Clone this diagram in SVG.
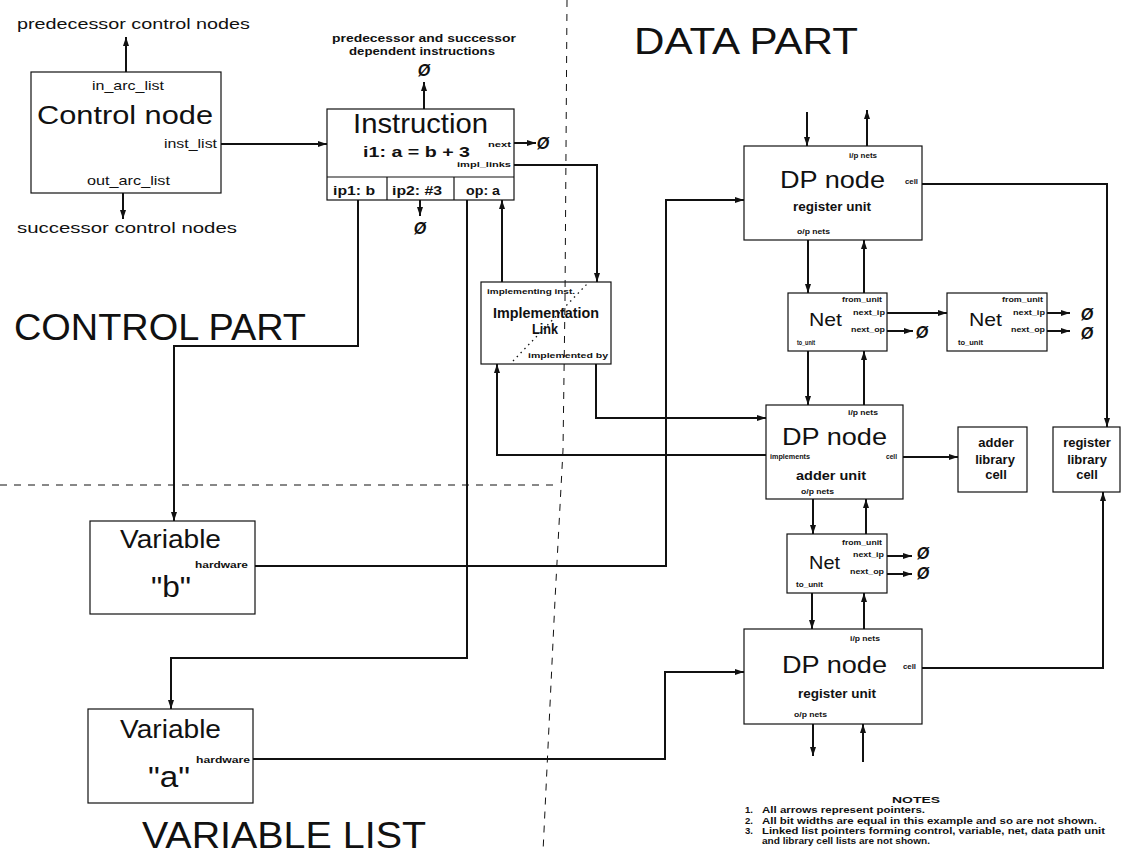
<svg xmlns="http://www.w3.org/2000/svg" width="1121" height="854" viewBox="0 0 1121 854">
<defs>
<marker id="ah" markerUnits="userSpaceOnUse" markerWidth="10" markerHeight="7" refX="9" refY="3.5" orient="auto">
<path d="M0,0.5 L9,3.5 L0,6.5 z" fill="#111"/>
</marker>
<style>
text{font-family:"Liberation Sans",Arial,sans-serif;fill:#111}
.box{fill:#fff;stroke:#111;stroke-width:1.2}
.c{fill:none;stroke:#111;stroke-width:2;marker-end:url(#ah)}
.dash{fill:none;stroke:#111;stroke-width:1;stroke-dasharray:7,7}
.t{font-weight:bold;font-size:8px}
.nul{font-size:16px;font-style:italic;font-weight:bold;text-anchor:middle}
.big{font-size:36px}
.note{font-weight:bold;font-size:9.5px}
</style>
</defs>
<rect width="1121" height="854" fill="#fff"/>

<g id="section-labels">
<text class="big" x="634" y="54" textLength="224" lengthAdjust="spacingAndGlyphs">DATA PART</text>
<text class="big" x="14" y="340" textLength="292" lengthAdjust="spacingAndGlyphs">CONTROL PART</text>
<text class="big" x="142" y="848" font-size="35" textLength="284" lengthAdjust="spacingAndGlyphs">VARIABLE LIST</text>
</g>

<g id="connectors">
<path class="c" d="M126,72 V37"/>
<path class="c" d="M123,193 V219"/>
<path class="c" d="M221,144 H327"/>
<path class="c" d="M424,109 V82"/>
<path class="c" d="M514,143 H536"/>
<path class="c" d="M420,200 V216"/>
<path class="c" d="M514,165 H597 V282"/>
<path class="c" d="M358,200 V346 H174 V521"/>
<path class="c" d="M467,200 V658 H171 V709"/>
<path class="c" d="M502,282 V200"/>
<path class="c" d="M596,364 V418 H766"/>
<path class="c" d="M766,455 H497 V364"/>
<path class="c" d="M255,566 H666 V200 H744"/>
<path class="c" d="M253,759 H665 V672 H744"/>
<path class="c" d="M807,112 V146"/>
<path class="c" d="M867,146 V110"/>
<path class="c" d="M808,240 V293"/>
<path class="c" d="M864,293 V240"/>
<path class="c" d="M887,313 H947"/>
<path class="c" d="M887,331 H913"/>
<path class="c" d="M1047,313 H1070"/>
<path class="c" d="M1047,331 H1070"/>
<path class="c" d="M922,184 H1107 V427"/>
<path class="c" d="M808,351 V405"/>
<path class="c" d="M864,405 V351"/>
<path class="c" d="M903,457 H958"/>
<path class="c" d="M813,499 V534"/>
<path class="c" d="M866,534 V499"/>
<path class="c" d="M887,556 H912"/>
<path class="c" d="M887,574 H912"/>
<path class="c" d="M812,593 V629"/>
<path class="c" d="M864,629 V593"/>
<path class="c" d="M922,668 H1103 V492"/>
<path class="c" d="M813,724 V756"/>
<path class="c" d="M863,762 V724"/>
</g>

<g id="null-pointers">
<text class="nul" x="424" y="76">Ø</text>
<text class="nul" x="543" y="149">Ø</text>
<text class="nul" x="420" y="234">Ø</text>
<text class="nul" x="922" y="338">Ø</text>
<text class="nul" x="1087" y="320">Ø</text>
<text class="nul" x="1087" y="339">Ø</text>
<text class="nul" x="923" y="559">Ø</text>
<text class="nul" x="923" y="579">Ø</text>
</g>

<g id="outer-labels">
<text x="17" y="29" font-size="15" textLength="233" lengthAdjust="spacingAndGlyphs">predecessor control nodes</text>
<text x="17" y="233" font-size="15" textLength="220" lengthAdjust="spacingAndGlyphs">successor control nodes</text>
<text x="332" y="42" font-size="11" font-weight="bold" textLength="184" lengthAdjust="spacingAndGlyphs">predecessor and successor</text>
<text x="349" y="55" font-size="11" font-weight="bold" textLength="146" lengthAdjust="spacingAndGlyphs">dependent instructions</text>
</g>

<g id="control-node">
<rect class="box" x="31" y="72" width="190" height="121"/>
<text x="92" y="90" font-size="13" textLength="72" lengthAdjust="spacingAndGlyphs">in_arc_list</text>
<text x="37" y="124" font-size="25" textLength="176" lengthAdjust="spacingAndGlyphs">Control node</text>
<text x="164" y="148" font-size="13" textLength="53" lengthAdjust="spacingAndGlyphs">inst_list</text>
<text x="87" y="185" font-size="13" textLength="83" lengthAdjust="spacingAndGlyphs">out_arc_list</text>
</g>

<g id="instruction">
<rect class="box" x="327" y="109" width="187" height="91"/>
<line x1="327" y1="177" x2="514" y2="177" stroke="#111" stroke-width="1.2"/>
<line x1="387" y1="177" x2="387" y2="200" stroke="#111" stroke-width="1.2"/>
<line x1="454" y1="177" x2="454" y2="200" stroke="#111" stroke-width="1.2"/>
<text x="353" y="133" font-size="28" textLength="135" lengthAdjust="spacingAndGlyphs">Instruction</text>
<text x="363" y="157" font-size="15" font-weight="bold" textLength="107" lengthAdjust="spacingAndGlyphs">i1:  a = b + 3</text>
<text class="t" x="488" y="147" textLength="23" lengthAdjust="spacingAndGlyphs">next</text>
<text class="t" x="457" y="167" textLength="54" lengthAdjust="spacingAndGlyphs">impl_links</text>
<text x="333" y="195" font-size="12" font-weight="bold" textLength="42" lengthAdjust="spacingAndGlyphs">ip1: b</text>
<text x="392" y="195" font-size="12" font-weight="bold" textLength="50" lengthAdjust="spacingAndGlyphs">ip2: #3</text>
<text x="466" y="195" font-size="12" font-weight="bold" textLength="34" lengthAdjust="spacingAndGlyphs">op: a</text>
</g>

<g id="implementation-link">
<rect class="box" x="481" y="282" width="130" height="82"/>
<line x1="513" y1="361" x2="588" y2="283" stroke="#111" stroke-width="1.3" stroke-dasharray="1.5,4"/>
<text class="t" x="487" y="294" textLength="88" lengthAdjust="spacingAndGlyphs">implementing inst.</text>
<text x="493" y="318" font-size="14" font-weight="bold" textLength="106" lengthAdjust="spacingAndGlyphs">Implementation</text>
<text x="532" y="334" font-size="14" font-weight="bold" textLength="26" lengthAdjust="spacingAndGlyphs">Link</text>
<text class="t" x="528" y="358" textLength="80" lengthAdjust="spacingAndGlyphs">implemented by</text>
</g>

<g id="dp-node-register-1">
<rect class="box" x="744" y="146" width="178" height="94"/>
<text class="t" x="849" y="158" textLength="28" lengthAdjust="spacingAndGlyphs">i/p nets</text>
<text x="780" y="188" font-size="24" textLength="105" lengthAdjust="spacingAndGlyphs">DP node</text>
<text class="t" x="905" y="184" textLength="13" lengthAdjust="spacingAndGlyphs">cell</text>
<text x="793" y="211" font-size="13" font-weight="bold" textLength="78" lengthAdjust="spacingAndGlyphs">register unit</text>
<text class="t" x="797" y="234" textLength="33" lengthAdjust="spacingAndGlyphs">o/p nets</text>
</g>

<g id="net-1">
<rect class="box" x="788" y="293" width="99" height="58"/>
<text x="809" y="326" font-size="19" textLength="33" lengthAdjust="spacingAndGlyphs">Net</text>
<text class="t" x="842" y="302" textLength="40" lengthAdjust="spacingAndGlyphs">from_unit</text>
<text class="t" x="853" y="315" textLength="32" lengthAdjust="spacingAndGlyphs">next_ip</text>
<text class="t" x="851" y="332" textLength="34" lengthAdjust="spacingAndGlyphs">next_op</text>
<text class="t" x="797" y="345" textLength="18" lengthAdjust="spacingAndGlyphs">to_unit</text>
</g>

<g id="net-2">
<rect class="box" x="947" y="293" width="100" height="58"/>
<text x="969" y="326" font-size="19" textLength="33" lengthAdjust="spacingAndGlyphs">Net</text>
<text class="t" x="1002" y="302" textLength="41" lengthAdjust="spacingAndGlyphs">from_unit</text>
<text class="t" x="1013" y="315" textLength="32" lengthAdjust="spacingAndGlyphs">next_ip</text>
<text class="t" x="1011" y="332" textLength="34" lengthAdjust="spacingAndGlyphs">next_op</text>
<text class="t" x="958" y="345" textLength="25" lengthAdjust="spacingAndGlyphs">to_unit</text>
</g>

<g id="dp-node-adder">
<rect class="box" x="766" y="405" width="137" height="94"/>
<text class="t" x="848" y="415" textLength="30" lengthAdjust="spacingAndGlyphs">i/p nets</text>
<text x="782" y="445" font-size="24" textLength="105" lengthAdjust="spacingAndGlyphs">DP node</text>
<text class="t" x="770" y="459" font-size="6" textLength="40" lengthAdjust="spacingAndGlyphs">implements</text>
<text class="t" x="886" y="459" textLength="11" lengthAdjust="spacingAndGlyphs">cell</text>
<text x="796" y="480" font-size="13" font-weight="bold" textLength="70" lengthAdjust="spacingAndGlyphs">adder unit</text>
<text class="t" x="801" y="494" textLength="33" lengthAdjust="spacingAndGlyphs">o/p nets</text>
</g>

<g id="adder-library-cell">
<rect class="box" x="958" y="427" width="69" height="65"/>
<text x="996" y="447" font-size="13" font-weight="bold" text-anchor="middle">adder</text>
<text x="995" y="464" font-size="13" font-weight="bold" text-anchor="middle">library</text>
<text x="996" y="479" font-size="13" font-weight="bold" text-anchor="middle">cell</text>
</g>

<g id="register-library-cell">
<rect class="box" x="1053" y="427" width="67" height="65"/>
<text x="1087" y="447" font-size="13" font-weight="bold" text-anchor="middle">register</text>
<text x="1087" y="464" font-size="13" font-weight="bold" text-anchor="middle">library</text>
<text x="1087" y="479" font-size="13" font-weight="bold" text-anchor="middle">cell</text>
</g>

<g id="net-3">
<rect class="box" x="787" y="534" width="100" height="59"/>
<text x="809" y="569" font-size="19" textLength="31" lengthAdjust="spacingAndGlyphs">Net</text>
<text class="t" x="842" y="545" textLength="40" lengthAdjust="spacingAndGlyphs">from_unit</text>
<text class="t" x="853" y="557" textLength="31" lengthAdjust="spacingAndGlyphs">next_ip</text>
<text class="t" x="850" y="574" textLength="34" lengthAdjust="spacingAndGlyphs">next_op</text>
<text class="t" x="796" y="587" textLength="27" lengthAdjust="spacingAndGlyphs">to_unit</text>
</g>

<g id="dp-node-register-2">
<rect class="box" x="744" y="629" width="178" height="95"/>
<text class="t" x="850" y="641" textLength="30" lengthAdjust="spacingAndGlyphs">i/p nets</text>
<text x="782" y="673" font-size="24" textLength="105" lengthAdjust="spacingAndGlyphs">DP node</text>
<text class="t" x="903" y="669" textLength="13" lengthAdjust="spacingAndGlyphs">cell</text>
<text x="798" y="698" font-size="13" font-weight="bold" textLength="78" lengthAdjust="spacingAndGlyphs">register unit</text>
<text class="t" x="794" y="717" textLength="33" lengthAdjust="spacingAndGlyphs">o/p nets</text>
</g>

<g id="variable-b">
<rect class="box" x="90" y="521" width="165" height="93"/>
<text x="120" y="548" font-size="26" textLength="101" lengthAdjust="spacingAndGlyphs">Variable</text>
<text x="195" y="568" font-size="9" font-weight="bold" textLength="53" lengthAdjust="spacingAndGlyphs">hardware</text>
<text x="151" y="597" font-size="29" textLength="40" lengthAdjust="spacingAndGlyphs">"b"</text>
</g>

<g id="variable-a">
<rect class="box" x="88" y="709" width="165" height="94"/>
<text x="120" y="738" font-size="26" textLength="101" lengthAdjust="spacingAndGlyphs">Variable</text>
<text x="196" y="763" font-size="9" font-weight="bold" textLength="54" lengthAdjust="spacingAndGlyphs">hardware</text>
<text x="148" y="787" font-size="29" textLength="42" lengthAdjust="spacingAndGlyphs">"a"</text>
</g>

<g id="notes">
<text class="note" x="892" y="803" textLength="48" lengthAdjust="spacingAndGlyphs">NOTES</text>
<text class="note" x="745" y="813">1.</text>
<text class="note" x="762" y="813" textLength="163" lengthAdjust="spacingAndGlyphs">All arrows represent pointers.</text>
<text class="note" x="745" y="824">2.</text>
<text class="note" x="762" y="824" textLength="335" lengthAdjust="spacingAndGlyphs">All bit widths are equal in this example and so are not shown.</text>
<text class="note" x="745" y="834">3.</text>
<text class="note" x="762" y="834" textLength="343" lengthAdjust="spacingAndGlyphs">Linked list pointers forming control, variable, net, data path unit</text>
<text class="note" x="762" y="844" textLength="168" lengthAdjust="spacingAndGlyphs">and library cell lists are not shown.</text>
</g>

<g id="page-lines">
<polyline class="dash" points="567,0 565,300 563,450 555,600 543,852"/>
<line class="dash" x1="0" y1="485" x2="556" y2="485"/>
</g>
</svg>
